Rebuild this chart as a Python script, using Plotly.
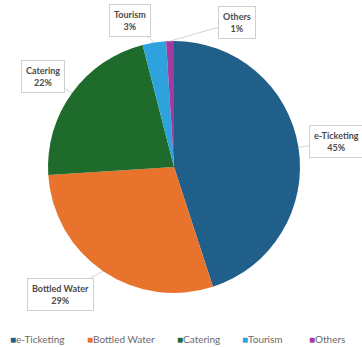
import math
import plotly.graph_objects as go

categories = ["e-Ticketing", "Bottled Water", "Catering", "Tourism", "Others"]
values = [45, 29, 22, 3, 1]
colors = ["#1F5F8A", "#E8732C", "#1F6B2B", "#2EA2DC", "#A33AA0"]

W, H = 362, 347
CX, CY, R = 174, 167, 126

# label box centres (pixels) placed like the reference callouts
label_pos = {
    "e-Ticketing": (336, 142),
    "Bottled Water": (60, 294),
    "Catering": (43, 76),
    "Tourism": (130, 20),
    "Others": (237, 22),
}
legend_x = [8, 85, 175, 240, 307]

fig = go.Figure()
fig.add_trace(go.Pie(
    labels=categories, values=values, sort=False, direction="clockwise", rotation=0,
    marker=dict(colors=colors, line=dict(width=0)),
    textinfo="none", hoverinfo="label+percent", showlegend=False,
    domain=dict(x=[(CX - R) / W, (CX + R) / W], y=[1 - (CY + R) / H, 1 - (CY - R) / H]),
))

total = sum(values)
cum = 0
annotations = []
for cat, v in zip(categories, values):
    mid = (cum + v / 2) / total * 2 * math.pi
    cum += v
    ex = CX + R * math.sin(mid)
    ey = CY - R * math.cos(mid)
    bx, by = label_pos[cat]
    annotations.append(dict(
        x=ex / W, y=1 - ey / H, xref="paper", yref="paper",
        ax=bx - ex, ay=by - ey, axref="pixel", ayref="pixel",
        text=f"<b>{cat}</b><br><b>{round(v / total * 100)}%</b>",
        showarrow=True, arrowhead=0, arrowwidth=0.8, arrowcolor="#C8C8C8",
        bordercolor="#D0D0D0", borderwidth=1, borderpad=4, bgcolor="white",
        font=dict(family="Lato", size=9, color="#4A4A4A"), align="center",
    ))

for cat, c, lx in zip(categories, colors, legend_x):
    annotations.append(dict(
        x=lx / W, y=1 - 339 / H, xref="paper", yref="paper", showarrow=False,
        xanchor="left", yanchor="middle",
        text=f"<span style='color:{c}'>■</span>{cat}",
        font=dict(family="Lato", size=10, color="#6A6A6A"),
    ))

fig.update_layout(
    width=W, height=H, margin=dict(l=0, r=0, t=0, b=0),
    paper_bgcolor="white", plot_bgcolor="white",
    annotations=annotations,
)
fig.write_html("out.html")
